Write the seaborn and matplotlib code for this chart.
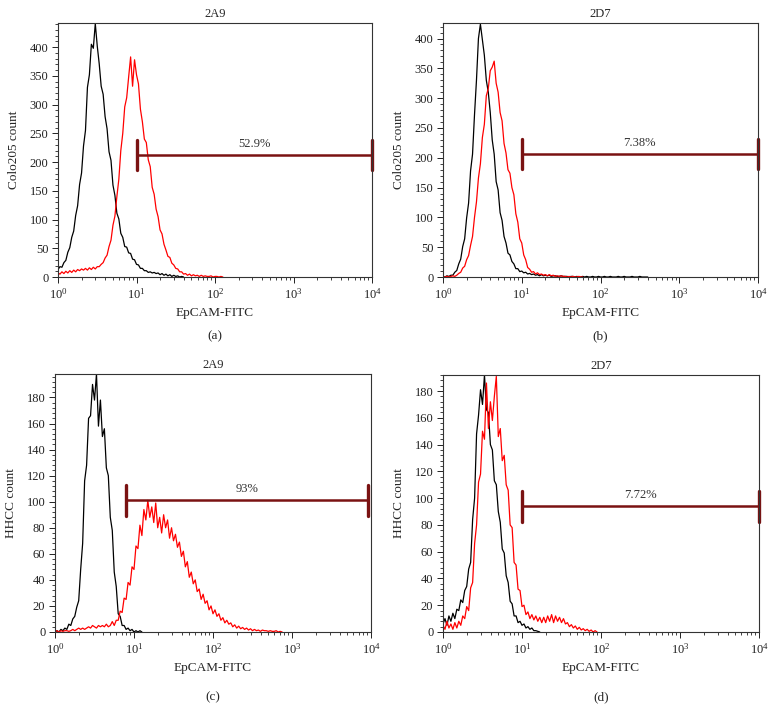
import numpy as np
import pandas as pd
import matplotlib
matplotlib.use("Agg")
import matplotlib.pyplot as plt
import matplotlib.ticker as mticker
import seaborn as sns

# histogram channels are 0.025 decade wide, starting at 10^0
bin_step = 0.025

# panel (a): Colo205, 2A9  (black = control, red = antibody)
a_black = [13, 18, 17, 25, 29, 43, 51, 69, 80, 107, 124, 161, 181, 228, 255, 330, 352, 405, 398, 441,
           402, 371, 332, 318, 279, 258, 218, 203, 160, 142, 111, 101, 76, 69, 53, 52, 42, 41, 31, 30,
           22, 21, 15, 15, 11, 11, 8, 9, 7, 8, 6, 7, 4, 6, 3, 5, 2, 4, 1, 3, 1, 2, 0, 1, 0]
a_red = [7, 5, 9, 6, 10, 7, 11, 8, 12, 9, 13, 11, 14, 12, 15, 12, 16, 13, 17, 14,
         18, 18, 22, 25, 33, 38, 53, 64, 90, 106, 140, 170, 220, 250, 296, 312, 348, 383, 332, 378,
         352, 336, 292, 270, 240, 234, 204, 192, 156, 144, 118, 105, 82, 75, 57, 47, 36, 34, 24, 21,
         15, 14, 9, 9, 5, 6, 3, 5, 2, 4, 2, 3, 1, 3, 1, 2, 1, 1, 2, 0, 1, 1, 0, 1, 0]

# panel (b): Colo205, 2D7
b_black = [1, 0, 2, 1, 3, 3, 8, 11, 22, 30, 51, 64, 99, 124, 178, 206, 272, 330, 400, 424,
           398, 372, 330, 310, 276, 230, 206, 160, 146, 108, 95, 68, 57, 40, 37, 26, 22, 14, 14, 9,
           10, 7, 8, 5, 6, 4, 5, 3, 4, 2, 4, 2, 3, 2, 3, 1, 2, 2, 1, 1, 2, 1, 1, 1, 0, 1, 1, 0, 1, 0,
           0, 1, 0, 1, 0, 0, 1, 0, 0, 1, 0, 0, 1, 0, 0, 1, 0, 0, 0, 1, 0, 0, 1, 0, 0, 0, 1, 0, 0, 0,
           1, 0, 0, 0, 0]
b_red = [0, 0, 1, 0, 1, 2, 1, 3, 6, 8, 15, 18, 29, 36, 53, 68, 100, 126, 166, 190,
         234, 256, 304, 316, 346, 352, 362, 325, 310, 276, 262, 224, 208, 180, 174, 150, 138, 106, 92, 64,
         57, 37, 29, 16, 13, 8, 9, 5, 7, 4, 5, 3, 4, 2, 4, 2, 3, 1, 2, 1, 2, 1, 1, 0, 1, 0, 1, 0, 0, 1,
         0, 0]

# panel (c): HHCC, 2A9
c_black = [0, 1, 0, 2, 1, 3, 2, 6, 5, 10, 12, 19, 24, 48, 68, 116, 128, 164, 166, 190,
           178, 198, 158, 178, 150, 156, 126, 120, 88, 78, 46, 35, 14, 12, 5, 5, 2, 3, 1, 2,
           0, 1, 0, 1, 0]
c_red = [0.5, 1, 0, 1, 0.5, 1, 1, 0.5, 1, 2, 1, 2, 3, 2, 3, 2, 3, 4, 3, 5,
         4, 3, 5, 4, 5, 4, 6, 4, 5, 8, 5, 9, 9, 16, 15, 26, 25, 38, 36, 50,
         48, 66, 64, 82, 74, 94, 86, 101, 88, 96, 84, 99, 80, 88, 76, 90, 80, 86, 72, 80,
         70, 75, 65, 69, 58, 62, 50, 54, 42, 46, 37, 40, 31, 33, 25, 29, 22, 24, 17, 20,
         14, 17, 12, 14, 9, 11, 7, 9, 6, 7, 4, 5.5, 3, 4.5, 2.5, 3.5, 2, 3, 1.5, 2.5,
         1, 2, 1, 1.5, 0.5, 1.5, 1, 1, 0.5, 1, 0.5, 0.5, 1, 0, 0.5, 0]

# panel (d): HHCC, 2D7
d_black = [6, 10, 5, 12, 8, 14, 10, 17, 16, 24, 22, 31, 34, 47, 52, 84, 100, 148, 162, 181,
           170, 192, 166, 164, 140, 136, 113, 110, 90, 82, 62, 59, 42, 37, 23, 21, 12, 12, 7, 8,
           5, 6, 3, 4, 2, 3, 1, 1, 0.5, 0]
d_red = [5, 2, 8, 3, 6, 2, 7, 3, 8, 5, 12, 10, 19, 16, 33, 37, 66, 80, 112, 118,
         150, 144, 186, 152, 172, 158, 176, 191, 146, 152, 128, 132, 110, 106, 80, 78, 52, 50, 32, 31,
         19, 20, 13, 15, 10, 13, 9, 12, 8, 11, 7, 11, 7, 12, 8, 13, 7, 12, 8, 11,
         7, 10, 6, 7, 4, 5.5, 3, 4.5, 2, 3.5, 1.5, 2.5, 1, 2, 0.5, 1.5, 0, 1, 0]

titles = ["2A9", "2D7", "2A9", "2D7"]
ylabels = ["Colo205 count", "Colo205 count", "HHCC count", "HHCC count"]
letters = ["(a)", "(b)", "(c)", "(d)"]
y_max = [442, 426, 198, 192]
y_major = [50, 50, 20, 20]
y_minor = [10, 10, 4, 4]

# marker gates
gate_left = [10, 10, 7.85, 10]
gate_right = [10000, 10000, 9100, 10000]
gate_y = [212, 206, 101, 94]
gate_text = ["52.9%", "7.38%", "93%", "7.72%"]

gate_color = "#7a1212"

sns.set_style("ticks")
plt.rcParams["font.family"] = ["Liberation Serif", "DejaVu Serif"]
plt.rcParams["mathtext.fontset"] = "custom"
plt.rcParams["mathtext.rm"] = "Liberation Serif"
plt.rcParams["mathtext.it"] = "Liberation Serif:italic"
plt.rcParams["mathtext.default"] = "rm"

W, H = 776, 711
fig = plt.figure(figsize=(W / 100, H / 100), dpi=100)

# axes boxes in pixels: left, top, right, bottom
boxes = [(58, 23, 372, 277), (443, 23, 758, 277), (55, 374, 371, 632), (443, 375, 759, 632)]
letter_y = [336, 336, 697, 697]


def to_frame(counts, name):
    dec = np.arange(len(counts)) * bin_step
    return pd.DataFrame({"fitc": 10 ** dec, "count": counts, "tube": name})


series = [(a_black, a_red), (b_black, b_red), (c_black, c_red), (d_black, d_red)]

for i, (black, red) in enumerate(series):
    l, t, r, b = boxes[i]
    ax = fig.add_axes([l / W, 1 - b / H, (r - l) / W, (b - t) / H])
    df = pd.concat([to_frame(black, "control"), to_frame(red, "antibody")])
    sns.lineplot(data=df, x="fitc", y="count", hue="tube",
                 palette={"control": "black", "antibody": "#ff0000"},
                 linewidth=0.9, legend=False, ax=ax, estimator=None)
    ax.set_xscale("log")
    ax.set_xlim(1, 10000)
    ax.set_ylim(0, y_max[i])
    ax.yaxis.set_major_locator(mticker.MultipleLocator(y_major[i]))
    ax.yaxis.set_minor_locator(mticker.MultipleLocator(y_minor[i]))
    ax.xaxis.set_major_locator(mticker.LogLocator(base=10, numticks=10))
    ax.xaxis.set_minor_locator(mticker.LogLocator(base=10, subs=np.arange(2, 10), numticks=10))
    ax.tick_params(which="major", direction="out", length=4, width=0.7, labelsize=9, pad=3, colors="#222222")
    ax.tick_params(which="minor", direction="out", length=2, width=0.6, colors="#222222")
    for s in ax.spines.values():
        s.set_linewidth(0.8)
        s.set_color("#333333")
    ax.set_title(titles[i], fontsize=9, pad=4)
    ax.set_xlabel("EpCAM-FITC", fontsize=9.5, labelpad=4)
    ax.set_ylabel(ylabels[i], fontsize=9.5)
    ax.yaxis.set_label_coords(-38 / (r - l), 0.5)

    # gate marker
    gy = gate_y[i]
    cap = 0.06 * y_max[i]
    ax.plot([gate_left[i], gate_right[i]], [gy, gy], color=gate_color, lw=1.8, clip_on=False)
    ax.plot([gate_left[i], gate_left[i]], [gy - cap, gy + cap], color=gate_color, lw=2.4, clip_on=False)
    ax.plot([gate_right[i], gate_right[i]], [gy - cap, gy + cap], color=gate_color, lw=2.4, clip_on=False)
    xm = np.sqrt(gate_left[i] * gate_right[i])
    ax.text(xm, gy + 0.045 * y_max[i], gate_text[i], ha="center", va="center", fontsize=9, color="#333333")

    fig.text((l + r) / 2 / W, 1 - letter_y[i] / H, letters[i], ha="center", va="center", fontsize=9.5)

fig.savefig("out.png", dpi=100)
